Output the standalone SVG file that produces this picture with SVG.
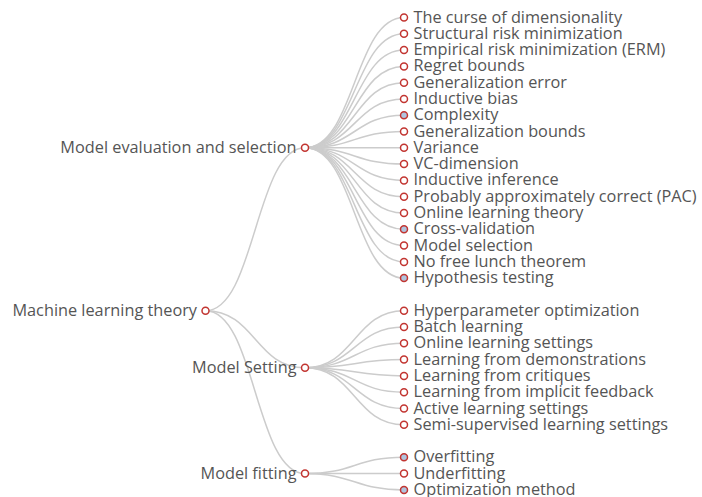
<svg xmlns="http://www.w3.org/2000/svg" width="702" height="497" viewBox="0 0 702 497">
<style>
.e{fill:none;stroke:#ccc;stroke-width:1.5}
.n{fill:#fff;stroke:#c23531;stroke-width:1.5}
.c{fill:#b0c4de;stroke:#c23531;stroke-width:1.5}
text{font-family:"Open Sans","Noto Sans","Liberation Sans",sans-serif;font-size:16.3px;fill:#555;dominant-baseline:central}
.l{text-anchor:end}
</style>
<rect width="702" height="497" fill="#fff"/>
<g id="connectors">
<path class="e" d="M205.5 310.7C255.3 310.7 255.3 147.8 305 147.8"/>
<path class="e" d="M205.5 310.7C255.3 310.7 255.3 367.7 305 367.7"/>
<path class="e" d="M205.5 310.7C255.3 310.7 255.3 473.6 305 473.6"/>
<path class="e" d="M305 147.8C354.5 147.8 354.5 17.5 404 17.5"/>
<path class="e" d="M305 147.8C354.5 147.8 354.5 33.8 404 33.8"/>
<path class="e" d="M305 147.8C354.5 147.8 354.5 50.1 404 50.1"/>
<path class="e" d="M305 147.8C354.5 147.8 354.5 66.4 404 66.4"/>
<path class="e" d="M305 147.8C354.5 147.8 354.5 82.7 404 82.7"/>
<path class="e" d="M305 147.8C354.5 147.8 354.5 99 404 99"/>
<path class="e" d="M305 147.8C354.5 147.8 354.5 115.2 404 115.2"/>
<path class="e" d="M305 147.8C354.5 147.8 354.5 131.5 404 131.5"/>
<path class="e" d="M305 147.8C354.5 147.8 354.5 147.8 404 147.8"/>
<path class="e" d="M305 147.8C354.5 147.8 354.5 164.1 404 164.1"/>
<path class="e" d="M305 147.8C354.5 147.8 354.5 180.4 404 180.4"/>
<path class="e" d="M305 147.8C354.5 147.8 354.5 196.7 404 196.7"/>
<path class="e" d="M305 147.8C354.5 147.8 354.5 213 404 213"/>
<path class="e" d="M305 147.8C354.5 147.8 354.5 229.3 404 229.3"/>
<path class="e" d="M305 147.8C354.5 147.8 354.5 245.6 404 245.6"/>
<path class="e" d="M305 147.8C354.5 147.8 354.5 261.9 404 261.9"/>
<path class="e" d="M305 147.8C354.5 147.8 354.5 278.1 404 278.1"/>
<path class="e" d="M305 367.7C354.5 367.7 354.5 310.7 404 310.7"/>
<path class="e" d="M305 367.7C354.5 367.7 354.5 327 404 327"/>
<path class="e" d="M305 367.7C354.5 367.7 354.5 343.3 404 343.3"/>
<path class="e" d="M305 367.7C354.5 367.7 354.5 359.6 404 359.6"/>
<path class="e" d="M305 367.7C354.5 367.7 354.5 375.9 404 375.9"/>
<path class="e" d="M305 367.7C354.5 367.7 354.5 392.2 404 392.2"/>
<path class="e" d="M305 367.7C354.5 367.7 354.5 408.5 404 408.5"/>
<path class="e" d="M305 367.7C354.5 367.7 354.5 424.8 404 424.8"/>
<path class="e" d="M305 473.6C354.5 473.6 354.5 457.3 404 457.3"/>
<path class="e" d="M305 473.6C354.5 473.6 354.5 473.6 404 473.6"/>
<path class="e" d="M305 473.6C354.5 473.6 354.5 489.9 404 489.9"/>
</g>
<g id="root"><circle class="n" cx="205.5" cy="310.7" r="3.5"/><text class="l" x="197" y="309.7">Machine learning theory</text></g>
<g id="mes"><circle class="n" cx="305" cy="147.8" r="3.5"/><text class="l" x="296.5" y="146.8">Model evaluation and selection</text></g>
<g id="ms"><circle class="n" cx="305" cy="367.7" r="3.5"/><text class="l" x="296.5" y="366.7">Model Setting</text></g>
<g id="mf"><circle class="n" cx="305" cy="473.6" r="3.5"/><text class="l" x="296.5" y="472.6">Model fitting</text></g>
<g id="l1"><circle class="n" cx="404" cy="17.5" r="3.5"/><text x="413.5" y="16.5">The curse of dimensionality</text></g>
<g id="l2"><circle class="n" cx="404" cy="33.8" r="3.5"/><text x="413.5" y="32.8">Structural risk minimization</text></g>
<g id="l3"><circle class="n" cx="404" cy="50.1" r="3.5"/><text x="413.5" y="49.1">Empirical risk minimization (ERM)</text></g>
<g id="l4"><circle class="n" cx="404" cy="66.4" r="3.5"/><text x="413.5" y="65.4">Regret bounds</text></g>
<g id="l5"><circle class="n" cx="404" cy="82.7" r="3.5"/><text x="413.5" y="81.7">Generalization error</text></g>
<g id="l6"><circle class="n" cx="404" cy="99" r="3.5"/><text x="413.5" y="98">Inductive bias</text></g>
<g id="l7"><circle class="c" cx="404" cy="115.2" r="3.5"/><text x="413.5" y="114.2">Complexity</text></g>
<g id="l8"><circle class="n" cx="404" cy="131.5" r="3.5"/><text x="413.5" y="130.5">Generalization bounds</text></g>
<g id="l9"><circle class="n" cx="404" cy="147.8" r="3.5"/><text x="413.5" y="146.8">Variance</text></g>
<g id="l10"><circle class="n" cx="404" cy="164.1" r="3.5"/><text x="413.5" y="163.1">VC-dimension</text></g>
<g id="l11"><circle class="n" cx="404" cy="180.4" r="3.5"/><text x="413.5" y="179.4">Inductive inference</text></g>
<g id="l12"><circle class="n" cx="404" cy="196.7" r="3.5"/><text x="413.5" y="195.7">Probably approximately correct (PAC)</text></g>
<g id="l13"><circle class="n" cx="404" cy="213" r="3.5"/><text x="413.5" y="212">Online learning theory</text></g>
<g id="l14"><circle class="c" cx="404" cy="229.3" r="3.5"/><text x="413.5" y="228.3">Cross-validation</text></g>
<g id="l15"><circle class="n" cx="404" cy="245.6" r="3.5"/><text x="413.5" y="244.6">Model selection</text></g>
<g id="l16"><circle class="n" cx="404" cy="261.9" r="3.5"/><text x="413.5" y="260.9">No free lunch theorem</text></g>
<g id="l17"><circle class="c" cx="404" cy="278.1" r="3.5"/><text x="413.5" y="277.1">Hypothesis testing</text></g>
<g id="s1"><circle class="n" cx="404" cy="310.7" r="3.5"/><text x="413.5" y="309.7">Hyperparameter optimization</text></g>
<g id="s2"><circle class="n" cx="404" cy="327" r="3.5"/><text x="413.5" y="326">Batch learning</text></g>
<g id="s3"><circle class="n" cx="404" cy="343.3" r="3.5"/><text x="413.5" y="342.3">Online learning settings</text></g>
<g id="s4"><circle class="n" cx="404" cy="359.6" r="3.5"/><text x="413.5" y="358.6">Learning from demonstrations</text></g>
<g id="s5"><circle class="n" cx="404" cy="375.9" r="3.5"/><text x="413.5" y="374.9">Learning from critiques</text></g>
<g id="s6"><circle class="n" cx="404" cy="392.2" r="3.5"/><text x="413.5" y="391.2">Learning from implicit feedback</text></g>
<g id="s7"><circle class="n" cx="404" cy="408.5" r="3.5"/><text x="413.5" y="407.5">Active learning settings</text></g>
<g id="s8"><circle class="n" cx="404" cy="424.8" r="3.5"/><text x="413.5" y="423.8">Semi-supervised learning settings</text></g>
<g id="f1"><circle class="c" cx="404" cy="457.3" r="3.5"/><text x="413.5" y="456.3">Overfitting</text></g>
<g id="f2"><circle class="n" cx="404" cy="473.6" r="3.5"/><text x="413.5" y="472.6">Underfitting</text></g>
<g id="f3"><circle class="c" cx="404" cy="489.9" r="3.5"/><text x="413.5" y="488.9">Optimization method</text></g>
</svg>
